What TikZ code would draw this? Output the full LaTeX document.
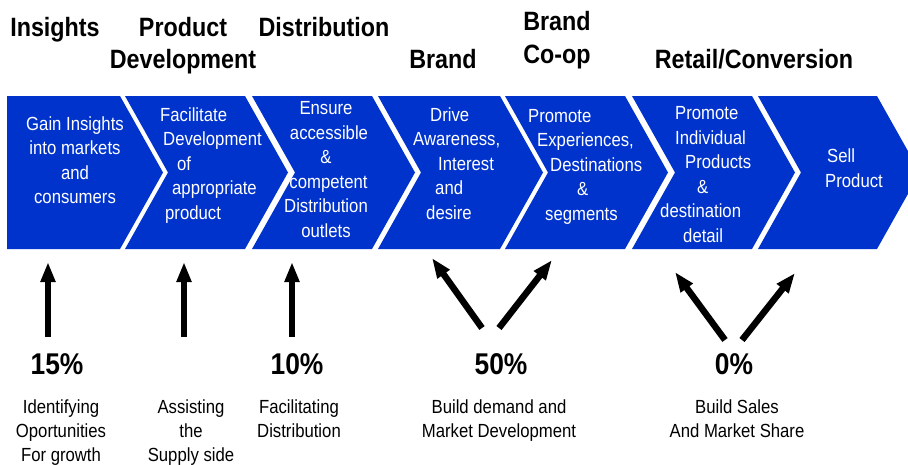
\documentclass[tikz,border=0pt]{standalone}
\usepackage{fontspec}
\setmainfont{Liberation Sans}[FakeStretch=0.88]
\usetikzlibrary{arrows.meta}

\definecolor{chevblue}{RGB}{0,51,204}

\tikzset{
  chevtext/.style={text=white, font=\fontsize{19}{24.5}\selectfont, inner sep=0pt, anchor=base west, align=left},
  stagehead/.style={font=\bfseries\fontsize{26.5}{32}\selectfont, inner sep=0pt, anchor=base},
  share/.style={font=\bfseries\fontsize{30}{36}\selectfont, inner sep=0pt, anchor=base},
  note/.style={font=\fontsize{19}{24}\selectfont, inner sep=0pt, anchor=base, align=center},
  bigarrow/.style={line width=6.5pt, -{Triangle[length=20pt,width=14pt]}}
}

\begin{document}
\begin{tikzpicture}[x=1pt,y=-1pt]
                \useasboundingbox (0,0) rectangle (908,464);

                % chevrons of the value chain
                \foreach \l/\r/\n in {7/120/0,125/245/43,252/372/43,378/500/43,505/625/43,632/752/43,758/877/43}
                  \fill[chevblue] (\l,96) -- (\r,96) -- (\r+43,172.5) -- (\r,249) -- (\l,249) -- (\l+\n,172.5) -- cycle;

                % stage headings
                \node[stagehead] (hIns) at (55,36) {Insights};
                \node[stagehead] (hProd) at (183,36) {Product};
                \node[stagehead] (hDev) at (183,68) {Development};
                \node[stagehead] (hDist) at (324,36) {Distribution};
                \node[stagehead] (hBrand) at (443,68) {Brand};
                \node[stagehead] (hCoopA) at (557,30) {Brand};
                \node[stagehead] (hCoopB) at (557,63) {Co-op};
                \node[stagehead] (hRetail) at (754,68) {Retail/Conversion};

                % text in the chevrons (placed at the baseline of the last line)
                \node[chevtext, anchor=base, align=center] (c1) at (75,203.5) {Gain Insights\\into markets\\and\\consumers};
                \node[chevtext] (c2) at (160,219) {Facilitate\\\hspace*{3pt}Development\\\hspace*{17pt}of\\\hspace*{12pt}appropriate\\\hspace*{5pt}product};
                \node[chevtext, anchor=base, align=center] (c3) at (326,237) {Ensure\\\hspace*{6pt}accessible\\\&\\\hspace*{5pt}competent\\Distribution\\outlets};
                \node[chevtext] (c4) at (413,219) {\hspace*{17pt}Drive\\Awareness,\\\hspace*{25pt}Interest\\\hspace*{22pt}and\\\hspace*{13pt}desire};
                \node[chevtext] (c5) at (528,220) {Promote\\\hspace*{9pt}Experiences,\\\hspace*{22pt}Destinations\\\hspace*{49pt}\&\\\hspace*{17pt}segments};
                \node[chevtext] (c6) at (660,242) {\hspace*{15pt}Promote\\\hspace*{15pt}Individual\\\hspace*{25pt}Products\\\hspace*{37pt}\&\\destination\\\hspace*{23pt}detail};
                \node[chevtext] (c7) at (825,187) {\hspace*{2pt}Sell\\Product};

                % arrows up to the chevrons
                \coordinate (a1) at (48,337);   \coordinate (t1) at (48,262);
                \coordinate (a2) at (184,337);  \coordinate (t2) at (184,262);
                \coordinate (a3) at (292,337);  \coordinate (t3) at (292,262);
                \coordinate (a4) at (482,328);  \coordinate (t4) at (432,258);
                \coordinate (a5) at (499,328);  \coordinate (t5) at (552,260);
                \coordinate (a6) at (725,340);  \coordinate (t6) at (675,272);
                \coordinate (a7) at (742,340);  \coordinate (t7) at (795,273);

                \draw[bigarrow] (a1) -- (t1);
                \draw[bigarrow] (a2) -- (t2);
                \draw[bigarrow] (a3) -- (t3);
                \draw[bigarrow] (a4) -- (t4);
                \draw[bigarrow] (a5) -- (t5);
                \draw[bigarrow] (a6) -- (t6);
                \draw[bigarrow] (a7) -- (t7);

                % shares
                \node[share] (p15) at (57,374) {15\%};
                \node[share] (p10) at (297,374) {10\%};
                \node[share] (p50) at (501,374) {50\%};
                \node[share] (p0) at (734,374) {0\%};

                % notes (placed at the baseline of the last line)
                \node[note] (n1) at (61,461) {Identifying\\Oportunities\\For growth};
                \node[note] (n2) at (191,461) {Assisting\\the\\Supply side};
                \node[note] (n3) at (299,437) {Facilitating\\Distribution};
                \node[note] (n4) at (499,437) {Build demand and\\Market Development};
                \node[note] (n5) at (737,437) {Build Sales\\And Market Share};

\end{tikzpicture}
\end{document}
